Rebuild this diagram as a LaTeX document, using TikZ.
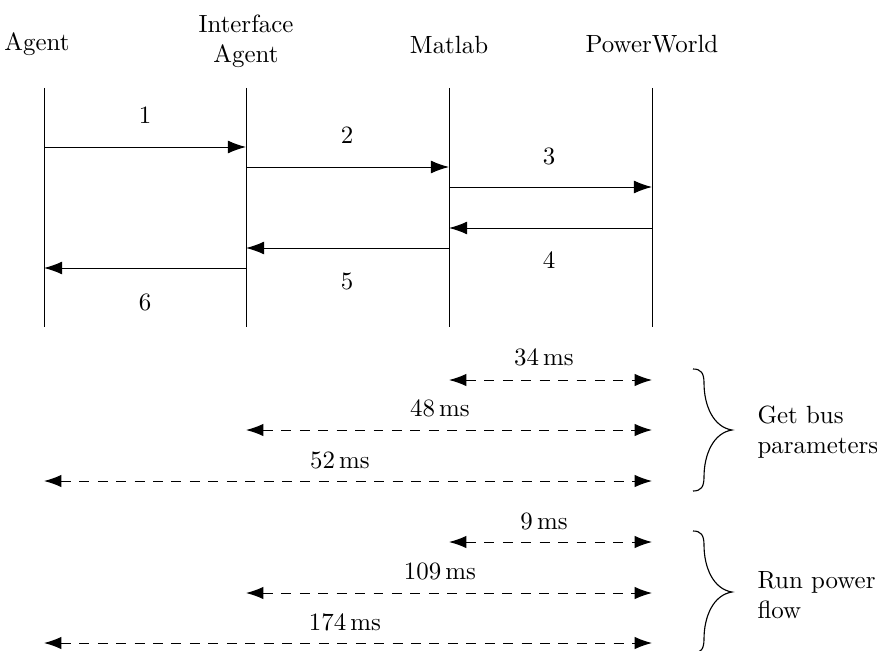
\documentclass[tikz,border=0pt]{standalone}
\usetikzlibrary{arrows.meta}
\begin{document}
\begin{tikzpicture}[x=0.4016pt,y=-0.4016pt,
  lifeline/.style={draw, line width=0.4pt},
  msg/.style={-{Latex[length=7.3pt,width=5.2pt]}, line width=0.4pt},
  span/.style={{Latex[length=7pt,width=5pt]}-{Latex[length=7pt,width=5pt]}, dash pattern=on 4pt off 3.4pt, line width=0.4pt},
  lbl/.style={inner sep=0pt},
  curlybrace/.pic={
    \draw[line width=0.45pt] (0,0) .. controls (8,0) and (11,4) .. (11,14)
      .. controls (11,36) and (20,58) .. (39,61)
      .. controls (20,64) and (11,86) .. (11,108)
      .. controls (11,118) and (8,122) .. (0,122);
  }]
\useasboundingbox (0,0) rectangle (877,650);

% headers
\node[lbl] (hA) at (37,44.5) {Agent};
\node[lbl, align=center] (hI) at (246,41) {Interface\\Agent};
\node[lbl] (hM) at (449,44.5) {Matlab};
\node[lbl] (hP) at (652,44.5) {PowerWorld};

% lifelines
\coordinate (aT) at (44,88);  \coordinate (aB) at (44,327);
\coordinate (iT) at (246,88); \coordinate (iB) at (246,327);
\coordinate (mT) at (449,88); \coordinate (mB) at (449,327);
\coordinate (pT) at (652,88); \coordinate (pB) at (652,327);
\draw[lifeline] (aT) -- (aB);
\draw[lifeline] (iT) -- (iB);
\draw[lifeline] (mT) -- (mB);
\draw[lifeline] (pT) -- (pB);

% messages
\coordinate (a1) at (44,147);  \coordinate (i1) at (246,147);
\coordinate (i2) at (246,167); \coordinate (m2) at (449,167);
\coordinate (m3) at (449,187); \coordinate (p3) at (652,187);
\coordinate (p4) at (652,228); \coordinate (m4) at (449,228);
\coordinate (m5) at (449,248); \coordinate (i5) at (246,248);
\coordinate (i6) at (246,268); \coordinate (a6) at (44,268);
\draw[msg] (a1) -- (i1);
\draw[msg] (i2) -- (m2);
\draw[msg] (m3) -- (p3);
\draw[msg] (p4) -- (m4);
\draw[msg] (m5) -- (i5);
\draw[msg] (i6) -- (a6);
\node[lbl] (n1) at (145,115) {1};
\node[lbl] (n2) at (347,135) {2};
\node[lbl] (n3) at (549,156) {3};
\node[lbl] (n4) at (549,260) {4};
\node[lbl] (n5) at (347,281) {5};
\node[lbl] (n6) at (145,302) {6};

% timing group 1
\coordinate (s1a) at (449,380); \coordinate (s1b) at (652,380);
\coordinate (s2a) at (246,430); \coordinate (s2b) at (652,430);
\coordinate (s3a) at (44,481);  \coordinate (s3b) at (652,481);
\draw[span] (s1a) -- (s1b);
\draw[span] (s2a) -- (s2b);
\draw[span] (s3a) -- (s3b);
\node[lbl] (t1) at (544,357) {34\,ms};
\node[lbl] (t2) at (440,408) {48\,ms};
\node[lbl] (t3) at (340,460) {52\,ms};
\coordinate (b1t) at (693,369);
\pic at (b1t) {curlybrace};
\node[lbl, align=left, anchor=west] (g1) at (757,432) {Get bus\\parameters};

% timing group 2
\coordinate (r1a) at (449,542); \coordinate (r1b) at (652,542);
\coordinate (r2a) at (246,593); \coordinate (r2b) at (652,593);
\coordinate (r3a) at (44,643);  \coordinate (r3b) at (652,643);
\draw[span] (r1a) -- (r1b);
\draw[span] (r2a) -- (r2b);
\draw[span] (r3a) -- (r3b);
\node[lbl] (u1) at (544,521) {9\,ms};
\node[lbl] (u2) at (440,571) {109\,ms};
\node[lbl] (u3) at (345,622) {174\,ms};
\coordinate (b2t) at (693,531);
\pic at (b2t) {curlybrace};
\node[lbl, align=left, anchor=west] (g2) at (757,595) {Run power\\flow};
\end{tikzpicture}
\end{document}
